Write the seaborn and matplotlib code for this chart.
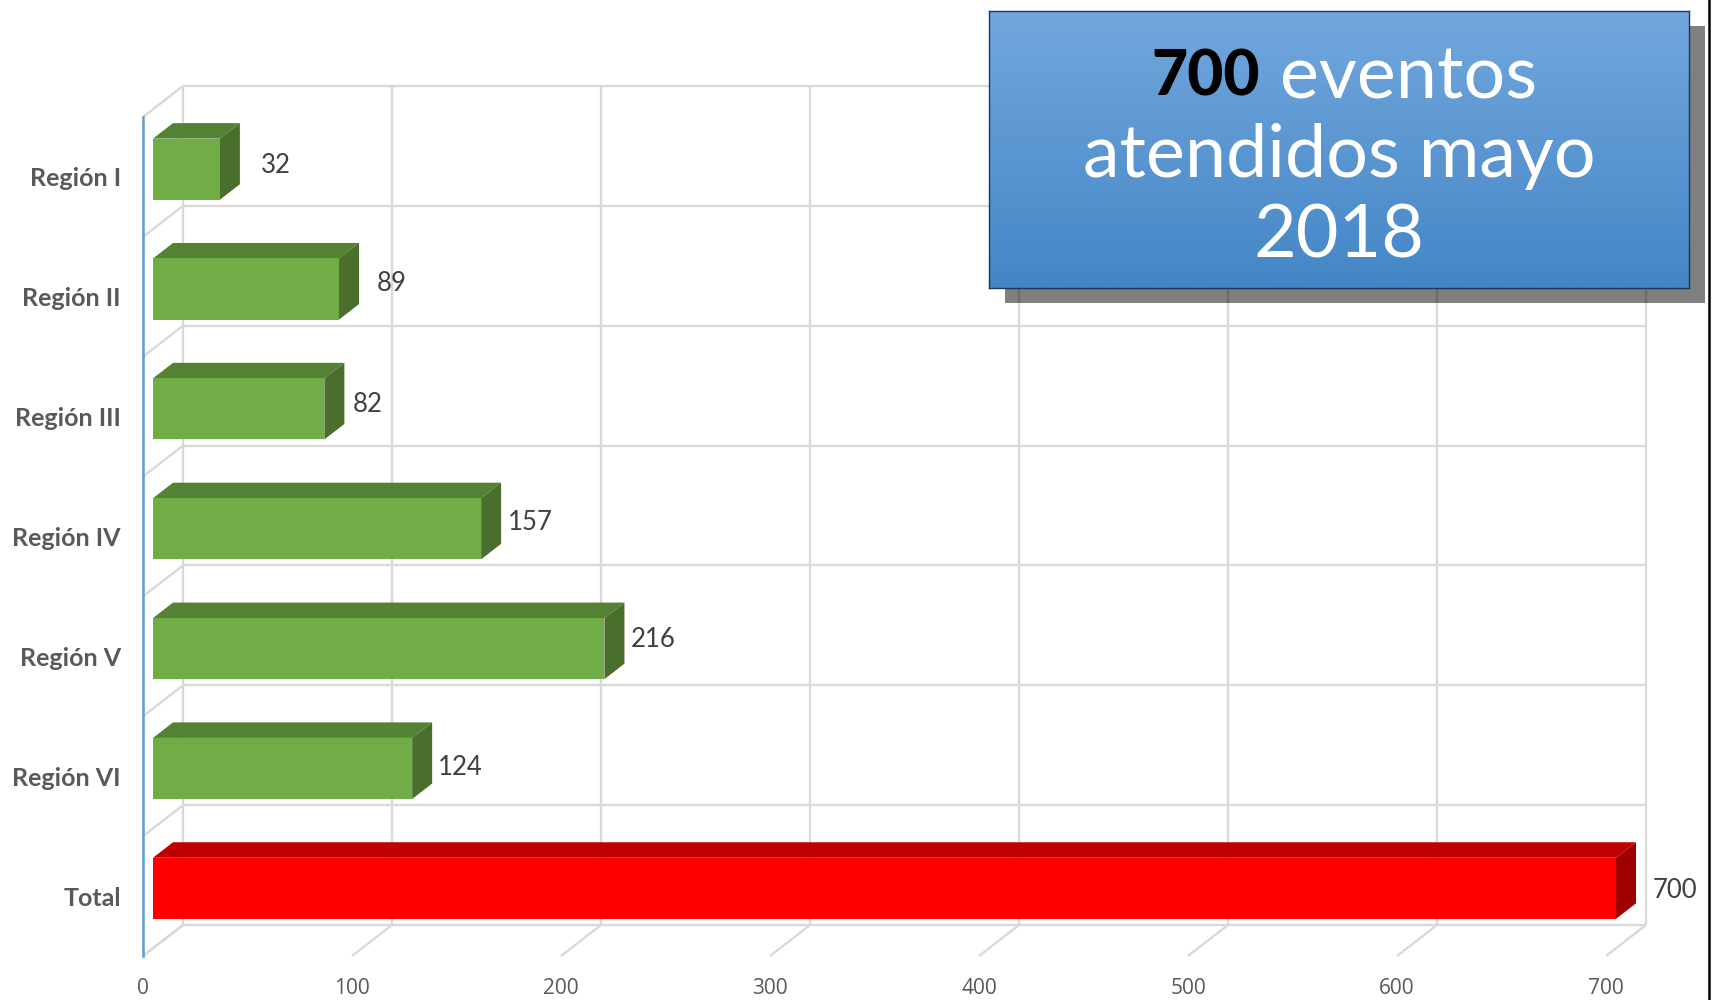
"""
Eventos atendidos por región, mayo 2018: barras horizontales con efecto 3D.
"""

import numpy as np
import pandas as pd
import matplotlib.pyplot as plt
import seaborn as sns
from matplotlib.lines import Line2D
from matplotlib.patches import Polygon, Rectangle
from matplotlib.transforms import Affine2D

# Datos
regiones = ['Región I', 'Región II', 'Región III', 'Región IV', 'Región V', 'Región VI', 'Total']
eventos = [32, 89, 82, 157, 216, 124, 700]
ticks_x = [0, 100, 200, 300, 400, 500, 600, 700]

# Estilo
ANCHO, ALTO = 1713, 1000
PROF_X, PROF_Y = 40, 31  # profundidad del efecto 3D, en pixeles
GRIS_REJILLA = '#d9d9d9'
COLORES = {'frente': '#70ad47', 'arriba': '#548235', 'lado': '#4a6f2c'}
COLORES_TOTAL = {'frente': '#ff0000', 'arriba': '#c00000', 'lado': '#a00000'}

# Desplazamiento de cada etiqueta respecto al final de la barra (pixeles)
etiqueta_dx = [66, 63, 53, 59, 59, 58, 69]
etiqueta_dy = [11, 13, 12, 14, 17, 9, 6]


def fx(px):
    return px / ANCHO


def fy(px):
    return 1 - px / ALTO


def plano(ax, d):
    """Transformación de datos a pantalla para una profundidad d (0 a 1)."""
    return ax.transData + Affine2D().translate(PROF_X * d, PROF_Y * d)


def dibujar_paredes(ax):
    """Rejilla de la pared del fondo, el piso y la pared izquierda."""
    fondo = plano(ax, 1)
    estilo = dict(color=GRIS_REJILLA, lw=1.7, zorder=1, clip_on=False, solid_capstyle='butt')
    limite_y = [i - 0.5 for i in range(len(regiones) + 1)]

    for y in limite_y:
        ax.plot([0, ticks_x[-1]], [y, y], transform=fondo, **estilo)
        p0 = plano(ax, 0).transform((0, y))
        p1 = fondo.transform((0, y))
        ax.add_line(Line2D([p0[0], p1[0]], [p0[1], p1[1]], transform=None, **estilo))

    for x in ticks_x:
        ax.plot([x, x], [limite_y[0], limite_y[-1]], transform=fondo, **estilo)
        p0 = plano(ax, 0).transform((x, limite_y[-1]))
        p1 = fondo.transform((x, limite_y[-1]))
        ax.add_line(Line2D([p0[0], p1[0]], [p0[1], p1[1]], transform=None, **estilo))


def caras_3d(ax):
    """Mueve las barras a su plano y agrega las caras superior y lateral."""
    frente = plano(ax, 0.25)
    atras = plano(ax, 0.75)
    for barra in ax.patches:
        x1 = barra.get_width()
        y_sup, y_inf = sorted([barra.get_y(), barra.get_y() + barra.get_height()])
        fila = int(round((y_sup + y_inf) / 2))
        col = COLORES_TOTAL if regiones[fila] == 'Total' else COLORES

        barra.set_transform(frente)
        barra.set_clip_on(False)
        barra.set_zorder(4)

        a = frente.transform([(0, y_sup), (x1, y_sup), (x1, y_inf)])
        b = atras.transform([(0, y_sup), (x1, y_sup), (x1, y_inf)])
        ax.add_patch(Polygon([a[0], a[1], b[1], b[0]], closed=True, transform=None,
                             fc=col['arriba'], ec='none', zorder=3, clip_on=False))
        ax.add_patch(Polygon([a[1], a[2], b[2], b[1]], closed=True, transform=None,
                             fc=col['lado'], ec='none', zorder=3, clip_on=False))


def etiquetas_valor(ax):
    for i, v in enumerate(eventos):
        px, py = plano(ax, 0).transform((v, i))
        ax.text(fx(px + etiqueta_dx[i]), py / ALTO + etiqueta_dy[i] / ALTO, str(v),
                transform=ax.figure.transFigure, ha='center', va='center',
                fontsize=18.5, family='Lato', color='#404040', zorder=6)


def caja_titulo(fig):
    """Caja azul con degradado y sombra."""
    x0, x1, y0, y1 = 989, 1689, 11, 288
    fig.add_artist(Rectangle((fx(x0 + 16), fy(y1 + 15)), (x1 - x0) / ANCHO, (y1 - y0) / ALTO,
                             transform=fig.transFigure, fc='black', alpha=0.5, ec='none', zorder=10))
    caja = fig.add_axes([fx(x0), fy(y1), (x1 - x0) / ANCHO, (y1 - y0) / ALTO], zorder=11)
    tope, base = np.array([0x72, 0xa7, 0xdd]), np.array([0x44, 0x86, 0xc6])
    mezcla = np.linspace(0, 1, 256)[:, None, None]
    caja.imshow((tope + (base - tope) * mezcla) / 255, aspect='auto')
    caja.set_xticks([])
    caja.set_yticks([])
    for lado in caja.spines.values():
        lado.set_color('#17375e')
        lado.set_linewidth(1)

    texto = dict(transform=fig.transFigure, va='center', color='white', zorder=12,
                 family='Lato', fontsize=53)
    fig.text(fx(1260), fy(78), '700', ha='right',
             **{**texto, 'color': 'black', 'weight': 'black', 'fontsize': 45})
    fig.text(fx(1280), fy(78), 'eventos', ha='left', **texto)
    fig.text(fx(1339), fy(157), 'atendidos mayo', ha='center', **texto)
    fig.text(fx(1339), fy(237), '2018', ha='center', **texto)


def main():
    sns.set_theme(style='white')
    fig = plt.figure(figsize=(ANCHO / 100, ALTO / 100), dpi=100, facecolor='white')
    ax = fig.add_axes([fx(143), fy(956), (1606 - 143) / ANCHO, (956 - 117) / ALTO])

    datos = pd.DataFrame({'region': regiones, 'eventos': eventos})
    colores = [COLORES_TOTAL['frente'] if r == 'Total' else COLORES['frente'] for r in regiones]
    sns.barplot(data=datos, x='eventos', y='region', hue='region', palette=colores,
                orient='h', width=0.51, linewidth=0, saturation=1, legend=False, ax=ax)

    ax.set_xlim(0, 700)
    ax.set_ylim(len(regiones) - 0.5, -0.5)
    ax.set_xticks(ticks_x)
    ax.set_xlabel('')
    ax.set_ylabel('')
    ax.patch.set_alpha(0)
    ax.tick_params(axis='both', length=0)
    ax.tick_params(axis='x', labelsize=15, labelcolor='#595959', pad=16)
    ax.tick_params(axis='y', labelsize=18, labelcolor='#595959', pad=16)
    for t in ax.get_xticklabels():
        t.set_family('Open Sans')
    for t in ax.get_yticklabels():
        t.set_family('Lato')
        t.set_weight('bold')

    sns.despine(ax=ax, top=True, right=True, bottom=True, left=False)
    ax.spines['left'].set_color('#5b9bd5')
    ax.spines['left'].set_linewidth(1.8)
    ax.spines['left'].set_zorder(5)

    fig.canvas.draw()
    dibujar_paredes(ax)
    caras_3d(ax)
    etiquetas_valor(ax)
    caja_titulo(fig)

    # Línea negra del borde derecho de la imagen
    fig.add_artist(Line2D([fx(1709), fx(1709)], [0, 1], color='black', lw=1.8, zorder=13))

    fig.savefig('out.png', dpi=100, facecolor='white')
    plt.close(fig)


if __name__ == "__main__":
    main()
